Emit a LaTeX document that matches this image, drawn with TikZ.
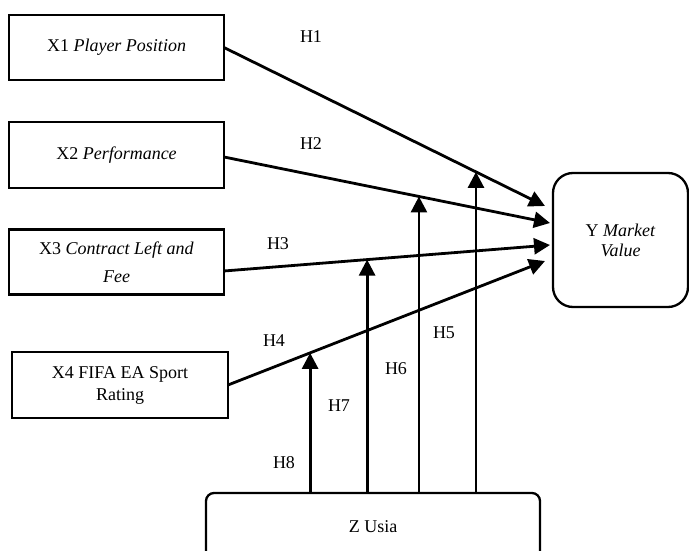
\documentclass[tikz,border=0pt]{standalone}
\usepackage{fontspec}
\setmainfont{Liberation Serif}
\usetikzlibrary{arrows.meta}
\tikzset{
  box/.style={draw, line width=2.2pt, inner sep=0pt, outer sep=0pt,
    align=center, font=\fontsize{18}{22}\selectfont},
  rbox/.style={box, line width=2.3pt},
  link/.style={line width=2.8pt, -{Triangle[length=16pt,width=16pt]}},
  hlabel/.style={inner sep=0pt, font=\fontsize{18}{22}\selectfont}
}
\begin{document}
\begin{tikzpicture}[x=1pt,y=-1pt]
  \path[use as bounding box] (0,0) rectangle (689,551);
  \clip (0,0) rectangle (689,551);
  % variables
  \node[box, minimum width=215pt, minimum height=65pt] (x1) at (116.5,47.5) {X1 \textit{Player Position}};
  \node[box, minimum width=215pt, minimum height=66pt] (x2) at (116.5,155) {X2 \textit{Performance}};
  \node[box, minimum width=215pt, minimum height=65pt] (x3) at (116.5,262) {X3 \textit{Contract Left and}\\[6pt]\textit{Fee}};
  \node[box, minimum width=216pt, minimum height=66pt] (x4) at (120,385) {X4 FIFA EA Sport\\Rating};
  \node[rbox, rounded corners=20pt, minimum width=135pt, minimum height=134pt, text depth=-4pt] (y) at (620.5,240) {Y \textit{Market}\\[-2pt]\textit{Value}};
  \node[rbox, rounded corners=8pt, minimum width=334pt, minimum height=68pt] (z) at (373,527) {Z Usia};
  % direct effects
  \draw[link] (x1.east) -- coordinate[pos=0.785] (m5) ([xshift=-8pt,yshift=34pt]y.west);
  \draw[link] ([yshift=-2pt]x2.east) -- coordinate[pos=0.598] (m6) ([xshift=-3pt,yshift=17pt]y.west);
  \draw[link] ([yshift=-9pt]x3.east) -- coordinate[pos=0.439] (m7) ([xshift=-3pt,yshift=-5pt]y.west);
  \draw[link] (x4.east) -- coordinate[pos=0.259] (m8) ([xshift=-8pt,yshift=-21pt]y.west);
  % moderation
  \begin{scope}
    \draw[link] (z.north -| m5) -- (m5);
    \draw[link] (z.north -| m6) -- (m6);
    \draw[link] (z.north -| m7) -- (m7);
    \draw[link] (z.north -| m8) -- (m8);
  \end{scope}
  % labels
  \node[hlabel] (h1) at (311,37) {H1};
  \node[hlabel] (h2) at (311,144) {H2};
  \node[hlabel] (h3) at (278,244) {H3};
  \node[hlabel] (h4) at (274,341) {H4};
  \node[hlabel] (h5) at (444,333) {H5};
  \node[hlabel] (h6) at (396,369) {H6};
  \node[hlabel] (h7) at (339,406) {H7};
  \node[hlabel] (h8) at (284,463) {H8};
\end{tikzpicture}
\end{document}
